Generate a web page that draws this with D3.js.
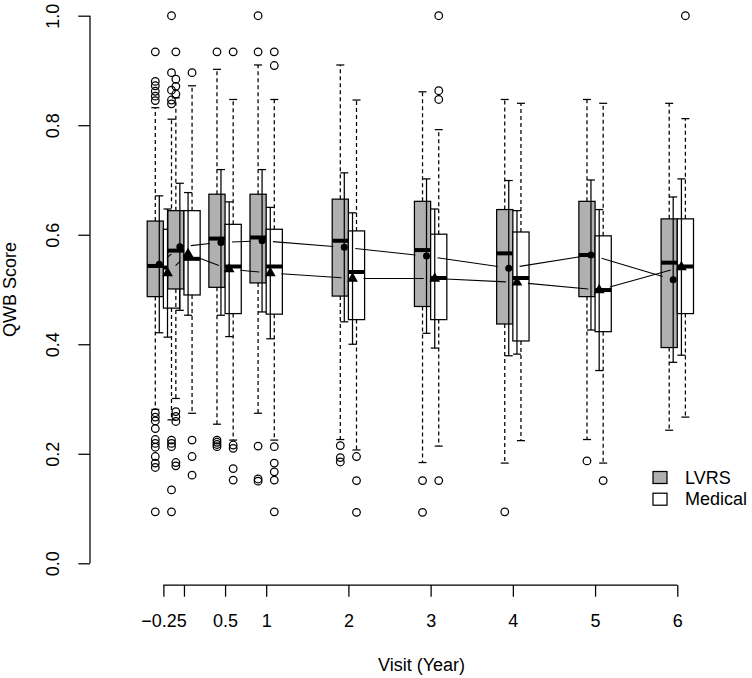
<!DOCTYPE html>
<html>
<head>
<meta charset="utf-8">
<script src="https://cdn.jsdelivr.net/npm/d3@7"></script>
<style>
  html, body { margin: 0; padding: 0; background: #fff; }
  svg { display: block; font-family: "Liberation Sans", Arial, Helvetica, sans-serif; }
</style>
</head>
<body>
<svg id="chart" width="752" height="678"></svg>
<script>
// ---- Data ----
const visits = [-0.25, 0, 0.5, 1, 2, 3, 4, 5, 6];
const xTickValues = [-0.25, 0, 0.5, 1, 2, 3, 4, 5, 6];
const xTickLabels = ["\u22120.25", "", "0.5", "1", "2", "3", "4", "5", "6"];
const yTickValues = [0, 0.2, 0.4, 0.6, 0.8, 1.0];
const yTickLabels = ["0.0", "0.2", "0.4", "0.6", "0.8", "1.0"];
const groups = ["LVRS", "Medical"];

const lvrsLow    = [0.281, 0.301, 0.254, 0.274, 0.226, 0.184, 0.183, 0.226, 0.243];
const lvrsQ1     = [0.487, 0.501, 0.504, 0.512, 0.488, 0.469, 0.437, 0.487, 0.394];
const lvrsMedian = [0.543, 0.571, 0.593, 0.595, 0.589, 0.572, 0.566, 0.563, 0.549];
const lvrsQ3     = [0.625, 0.644, 0.674, 0.674, 0.665, 0.661, 0.646, 0.661, 0.629];
const lvrsHigh   = [0.832, 0.850, 0.902, 0.910, 0.910, 0.861, 0.847, 0.847, 0.840];
const lvrsMean   = [0.546, 0.578, 0.586, 0.589, 0.577, 0.561, 0.539, 0.563, 0.518];
const lvrsSD     = [0.125, 0.116, 0.133, 0.130, 0.136, 0.141, 0.160, 0.137, 0.151];
const lvrsOutliers = [
  [0.934, 0.880, 0.872, 0.862, 0.853, 0.845, 0.275, 0.267, 0.260, 0.246, 0.226, 0.219, 0.212, 0.195, 0.183, 0.175, 0.094],
  [0.934, 0.884, 0.871, 0.857, 0.277, 0.268, 0.259, 0.184, 0.178],
  [0.934, 0.225, 0.221, 0.217, 0.213],
  [1.0, 0.934, 0.214, 0.154, 0.150],
  [0.215, 0.193, 0.185],
  [0.151, 0.093],
  [0.094],
  [0.187],
  []
];

const medLow    = [0.262, 0.274, 0.225, 0.225, 0.207, 0.214, 0.224, 0.183, 0.267];
const medQ1     = [0.466, 0.490, 0.456, 0.455, 0.445, 0.445, 0.406, 0.423, 0.456];
const medMedian = [0.540, 0.556, 0.542, 0.542, 0.532, 0.521, 0.521, 0.499, 0.542];
const medQ3     = [0.610, 0.644, 0.619, 0.610, 0.607, 0.601, 0.605, 0.598, 0.629];
const medHigh   = [0.811, 0.872, 0.847, 0.847, 0.846, 0.792, 0.840, 0.840, 0.812];
const medMean   = [0.530, 0.565, 0.537, 0.530, 0.520, 0.520, 0.513, 0.499, 0.541];
const medSD     = [0.117, 0.112, 0.123, 0.120, 0.120, 0.127, 0.131, 0.147, 0.161];
const medOutliers = [
  [1.0, 0.896, 0.864, 0.846, 0.839, 0.225, 0.219, 0.213, 0.134, 0.094],
  [0.896, 0.225, 0.195, 0.161],
  [0.934, 0.216, 0.210, 0.173, 0.152],
  [0.934, 0.909, 0.213, 0.183, 0.167, 0.152, 0.094],
  [0.195, 0.151, 0.093],
  [1.0, 0.863, 0.847, 0.151],
  [],
  [0.151],
  [1.0]
];

// ---- Build series table ----
const series = [
  { name: "LVRS", fill: "#b0b0b0", side: -1, low: lvrsLow, q1: lvrsQ1, med: lvrsMedian, q3: lvrsQ3, high: lvrsHigh, mean: lvrsMean, sd: lvrsSD, out: lvrsOutliers },
  { name: "Medical", fill: "#ffffff", side: 1, low: medLow, q1: medQ1, med: medMedian, q3: medQ3, high: medHigh, mean: medMean, sd: medSD, out: medOutliers }
];

const svg = d3.select("#chart");
const x = d3.scaleLinear().domain([-0.25, 6]).range([163.4, 677.3]);
const y = d3.scaleLinear().domain([0, 1]).range([563.3, 15.7]);
const boxW = 0.197;   // in visit units
const meanOff = 0.05;
const sw = 1.25;

const gBoxes = svg.append("g");
visits.forEach((v, i) => {
  series.forEach(s => {
    const left = s.side < 0 ? x(v - boxW) : x(v);
    const right = s.side < 0 ? x(v) : x(v + boxW);
    const cx = (left + right) / 2;
    const g = gBoxes.append("g");
    g.append("rect")
      .attr("x", left).attr("y", y(s.q3[i]))
      .attr("width", right - left).attr("height", y(s.q1[i]) - y(s.q3[i]))
      .attr("fill", s.fill).attr("stroke", "#000").attr("stroke-width", sw);
    g.append("line")
      .attr("x1", left).attr("x2", right)
      .attr("y1", y(s.med[i])).attr("y2", y(s.med[i]))
      .attr("stroke", "#000").attr("stroke-width", 4);
    // whiskers
    [[s.q3[i], s.high[i]], [s.q1[i], s.low[i]]].forEach(([a, b]) => {
      g.append("line")
        .attr("x1", cx).attr("x2", cx).attr("y1", y(a)).attr("y2", y(b))
        .attr("stroke", "#000").attr("stroke-width", sw).attr("stroke-dasharray", "4,3");
      g.append("line")
        .attr("x1", cx - 4).attr("x2", cx + 4).attr("y1", y(b)).attr("y2", y(b))
        .attr("stroke", "#000").attr("stroke-width", sw);
    });
    // outliers
    g.selectAll("circle.out").data(s.out[i]).enter().append("circle")
      .attr("class", "out")
      .attr("cx", cx).attr("cy", d => y(d)).attr("r", 3.8)
      .attr("fill", "none").attr("stroke", "#000").attr("stroke-width", sw);
  });
});

// ---- error bars (mean ± SD) ----
const gErr = svg.append("g");
series.forEach(s => {
  visits.forEach((v, i) => {
    const px = x(v + s.side * meanOff);
    const top = y(s.mean[i] + s.sd[i]);
    const bot = y(s.mean[i] - s.sd[i]);
    gErr.append("line").attr("x1", px).attr("x2", px).attr("y1", top).attr("y2", bot)
      .attr("stroke", "#000").attr("stroke-width", sw);
    [top, bot].forEach(yy => {
      gErr.append("line").attr("x1", px - 4).attr("x2", px + 4).attr("y1", yy).attr("y2", yy)
        .attr("stroke", "#000").attr("stroke-width", sw);
    });
  });
});

// ---- mean lines (type "b": with gaps) ----
const gLines = svg.append("g");
const gap = 11;
series.forEach(s => {
  for (let i = 0; i < visits.length - 1; i++) {
    const x1 = x(visits[i] + s.side * meanOff), y1 = y(s.mean[i]);
    const x2 = x(visits[i + 1] + s.side * meanOff), y2 = y(s.mean[i + 1]);
    const dx = x2 - x1, dy = y2 - y1, len = Math.hypot(dx, dy);
    if (len <= 2 * gap) continue;
    const ux = dx / len, uy = dy / len;
    gLines.append("line")
      .attr("x1", x1 + ux * gap).attr("y1", y1 + uy * gap)
      .attr("x2", x2 - ux * gap).attr("y2", y2 - uy * gap)
      .attr("stroke", "#000").attr("stroke-width", 1.1);
  }
});

// ---- mean points ----
const gPts = svg.append("g");
visits.forEach((v, i) => {
  gPts.append("circle")
    .attr("cx", x(v - meanOff)).attr("cy", y(lvrsMean[i])).attr("r", 3.5)
    .attr("fill", "#000");
  gPts.append("path")
    .attr("transform", `translate(${x(v + meanOff)},${y(medMean[i])})`)
    .attr("d", d3.symbol().type(d3.symbolTriangle).size(50)())
    .attr("fill", "#000");
});

// ---- axes ----
const yAxis = d3.axisLeft(y).tickValues(yTickValues).tickFormat((d, i) => yTickLabels[i]).tickSize(11.7).tickPadding(0);
const gy = svg.append("g").attr("transform", "translate(90,0)").call(yAxis);
gy.select(".domain").attr("d", `M0,${y(0)}V${y(1)}`).attr("stroke", "#000").attr("stroke-width", sw);
gy.selectAll(".tick line").attr("stroke", "#000").attr("stroke-width", sw);
gy.selectAll(".tick text")
  .attr("x", null).attr("dy", null)
  .attr("transform", "translate(-31,0) rotate(-90)")
  .attr("text-anchor", "middle")
  .attr("font-size", 18).attr("font-family", "Liberation Sans, Arial, sans-serif").attr("fill", "#000");

const xAxis = d3.axisBottom(x).tickValues(xTickValues).tickFormat((d, i) => xTickLabels[i]).tickSize(11.7).tickPadding(0);
const gx = svg.append("g").attr("transform", "translate(0,585)").call(xAxis);
gx.select(".domain").attr("d", `M${x(-0.25)},0H${x(6)}`).attr("stroke", "#000").attr("stroke-width", sw);
gx.selectAll(".tick line").attr("stroke", "#000").attr("stroke-width", sw);
gx.selectAll(".tick text")
  .attr("y", 41.7).attr("dy", null)
  .attr("font-size", 18).attr("font-family", "Liberation Sans, Arial, sans-serif").attr("fill", "#000");

// titles
svg.append("text")
  .attr("transform", `translate(16,${y(0.5)}) rotate(-90)`)
  .attr("text-anchor", "middle").attr("font-size", 18).attr("fill", "#000")
  .text("QWB Score");
svg.append("text")
  .attr("x", 421.5).attr("y", 671)
  .attr("text-anchor", "middle").attr("font-size", 18).attr("fill", "#000")
  .text("Visit (Year)");

// legend
const legend = svg.append("g");
series.forEach((s, k) => {
  legend.append("rect")
    .attr("x", 653).attr("y", 471.5 + k * 21.7).attr("width", 14).attr("height", 12)
    .attr("fill", s.fill).attr("stroke", "#000").attr("stroke-width", sw);
  legend.append("text")
    .attr("x", 685).attr("y", 483.5 + k * 21.7)
    .attr("font-size", 18).attr("fill", "#000")
    .text(groups[k]);
});
</script>
</body>
</html>
